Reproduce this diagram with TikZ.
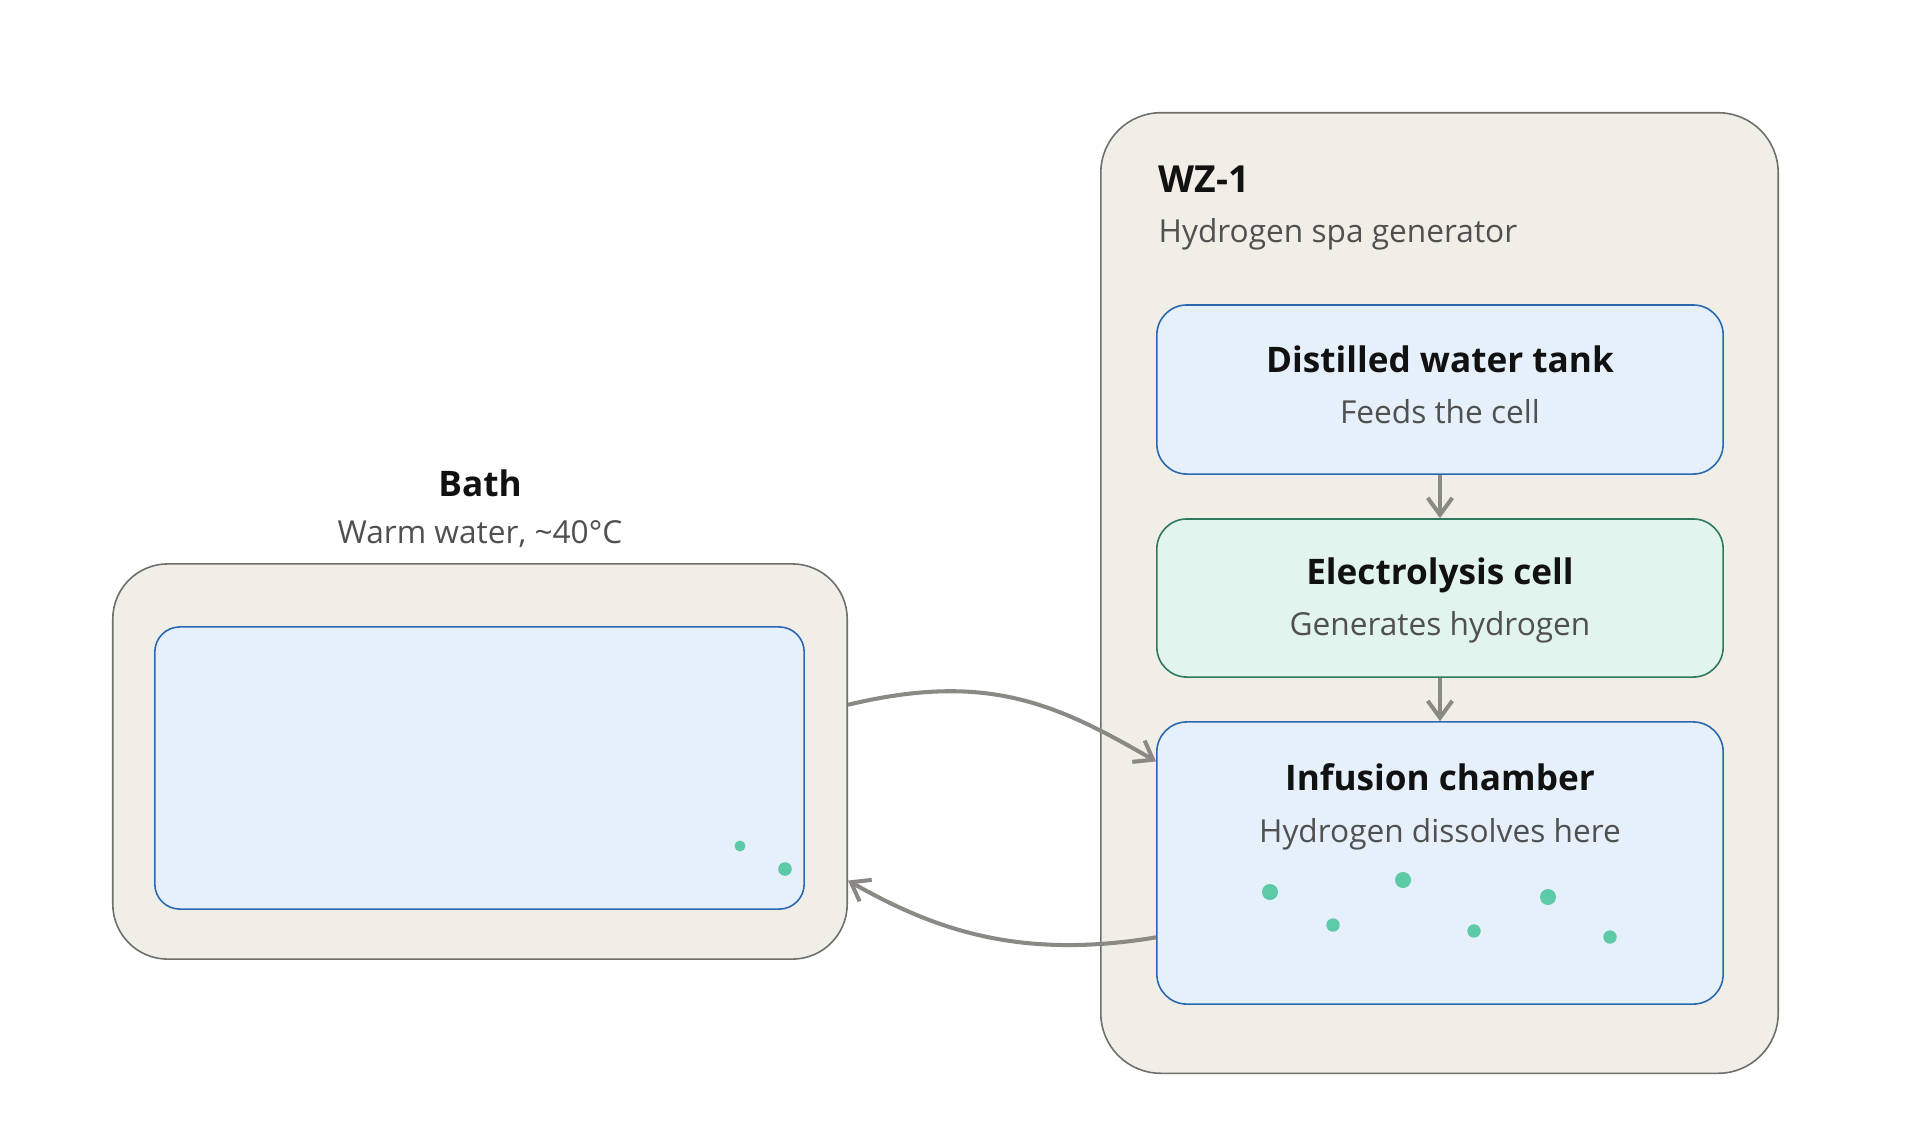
\documentclass[tikz,border=0pt]{standalone}
\usepackage{fontspec}
\setmainfont{Open Sans}
\usetikzlibrary{arrows.meta,calc}
\definecolor{cont}{HTML}{F1EEE8}
\definecolor{contline}{HTML}{6E6E6B}
\definecolor{bluefill}{HTML}{E6F0FA}
\definecolor{blueline}{HTML}{2A68B0}
\definecolor{greenfill}{HTML}{E1F4EE}
\definecolor{greenline}{HTML}{2F7A5E}
\definecolor{dotc}{HTML}{5CC9A7}
\definecolor{arrowc}{HTML}{8A8984}
\definecolor{titlec}{HTML}{111111}
\definecolor{subc}{HTML}{505050}
\begin{document}
\begin{tikzpicture}[x=0.01cm,y=-0.01cm,
  container/.style={draw=contline,fill=cont,line width=0.45pt,rounded corners=0.6cm,inner sep=0pt},
  bluebox/.style={draw=blueline,fill=bluefill,line width=0.45pt,rounded corners=0.3cm,inner sep=0pt},
  greenbox/.style={draw=greenline,fill=greenfill,line width=0.45pt,rounded corners=0.3cm,inner sep=0pt},
  ttl/.style={font=\bfseries\fontsize{10}{12}\selectfont,text=titlec,inner sep=0pt},
  sub/.style={font=\fontsize{9}{11}\selectfont,text=subc,inner sep=0pt},
  bubble/.style={fill=dotc,draw=none},
  flow/.style={draw=arrowc,line width=1.15pt,-{Straight Barb[length=4.8pt,width=7pt]}}
]
\useasboundingbox (0,0) rectangle (1920,1129);
\fill[white] (0,0) rectangle (1920,1129);

% WZ-1 container
\node[container,minimum width=6.77cm,minimum height=9.6cm] (wz) at (1439.5,593) {};
\node[ttl,anchor=base west,font=\bfseries\fontsize{10.6}{12}\selectfont] (wzt) at (1158,192) {WZ-1};
\node[sub,anchor=base west] (wzs) at (1158,242) {Hydrogen spa generator};

% inner boxes
\node[bluebox,minimum width=5.66cm,minimum height=1.69cm] (tank) at (1440,389.5) {};
\node[ttl,anchor=base] (tankt) at (1440,372) {Distilled water tank};
\node[sub,anchor=base] (tanks) at (1440,423) {Feeds the cell};

\node[greenbox,minimum width=5.66cm,minimum height=1.58cm] (cell) at (1440,598) {};
\node[ttl,anchor=base] (cellt) at (1440,584) {Electrolysis cell};
\node[sub,anchor=base] (cells) at (1440,635) {Generates hydrogen};

\node[bluebox,minimum width=5.66cm,minimum height=2.82cm] (inf) at (1440,863) {};
\node[ttl,anchor=base] (inft) at (1440,790) {Infusion chamber};
\node[sub,anchor=base] (infs) at (1440,842) {Hydrogen dissolves here};

\fill[bubble] (1270,892) circle (0.08cm);
\fill[bubble] (1333,925) circle (0.067cm);
\fill[bubble] (1403,880) circle (0.08cm);
\fill[bubble] (1474,931) circle (0.067cm);
\fill[bubble] (1548,897) circle (0.08cm);
\fill[bubble] (1610,937) circle (0.067cm);

\draw[flow] (tank.south) -- (cell.north);
\draw[flow] (cell.south) -- (inf.north);

% Bath
\node[ttl,anchor=base] (batht) at (480,496) {Bath};
\node[sub,anchor=base] (baths) at (480,543) {Warm water, \textasciitilde 40°C};
\node[container,minimum width=7.34cm,minimum height=3.95cm,rounded corners=0.55cm] (bath) at (480,761.5) {};
\node[bluebox,minimum width=6.49cm,minimum height=2.82cm,rounded corners=0.25cm] (water) at (479.5,768) {};
\fill[bubble] (740,846) circle (0.055cm);
\fill[bubble] (785,869) circle (0.068cm);

% flows between bath and infusion chamber
\coordinate (outA) at ($(bath.north east)!0.357!(bath.south east)$);
\coordinate (inA) at ($(inf.north west)!0.142!(inf.south west)$);
\coordinate (outB) at ($(inf.north west)!0.762!(inf.south west)$);
\coordinate (inB) at ($(bath.north east)!0.8!(bath.south east)$);
\draw[flow] (outA) .. controls (985,672) and (1054,702) .. (inA);
\draw[flow] (outB) .. controls (1020,960) and (935,930) .. (inB);
\end{tikzpicture}
\end{document}
